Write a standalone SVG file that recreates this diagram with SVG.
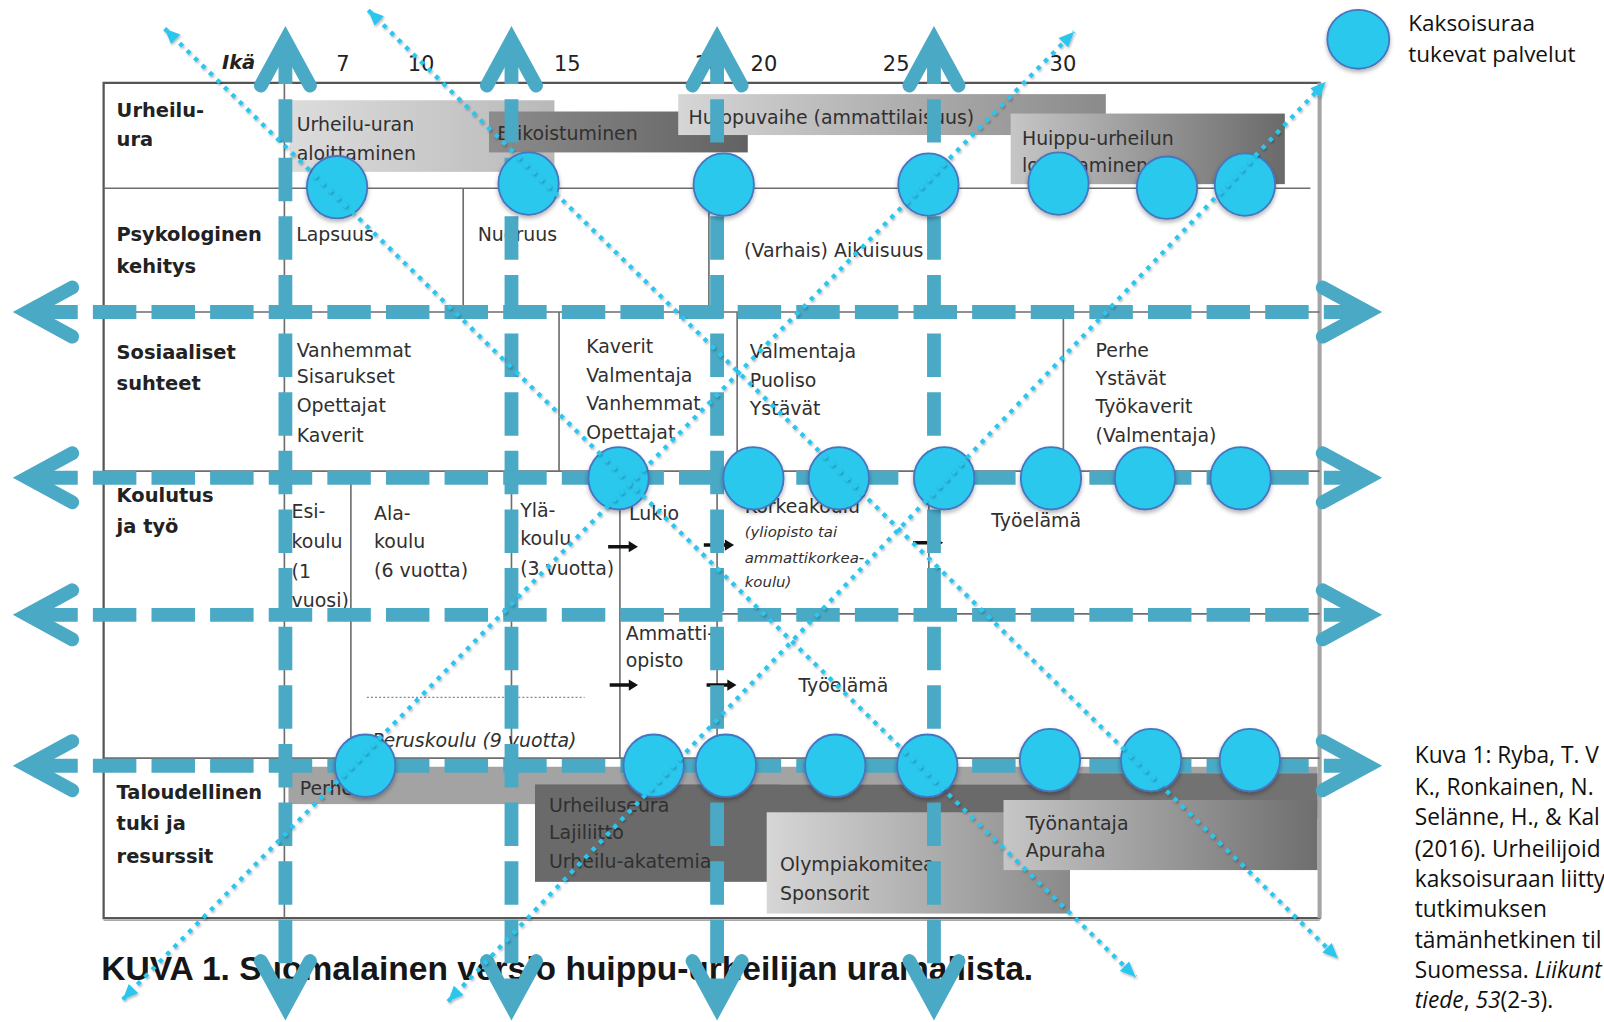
<svg xmlns="http://www.w3.org/2000/svg" width="1604" height="1022" viewBox="0 0 1604 1022">
<defs>
<style>
.t{font-family:"DejaVu Sans",sans-serif;font-size:18.5px;fill:#303030}
.b{font-weight:bold;font-size:19px;fill:#222}
.i{font-style:italic}
.s{font-size:14.6px}
.n{font-size:20.5px;fill:#222}
.grid{stroke:#6e6e6e;stroke-width:1.6;fill:none}
.axis{fill:none;stroke:#4AA9C5;stroke-width:13.5;stroke-dasharray:42.5 14.8}
.h{stroke-dashoffset:50.4;marker-start:url(#chev);marker-end:url(#chev)}
.v{marker-start:url(#chev);marker-end:url(#chev)}
.diag{fill:none;stroke:#2CC6EE;stroke-width:4.2;stroke-dasharray:4.2 6;marker-start:url(#tri);marker-end:url(#tri)}
.node{fill:#29C8ED;stroke:#4775BF;stroke-width:1.8}
.arr{stroke:#111;stroke-width:3.5;fill:none}
.tip{fill:#111}
.ref{font-family:"Open Sans",sans-serif;font-size:22.2px;fill:#111}
.leg{font-family:"Open Sans",sans-serif;font-size:22px;fill:#111}
.cap{font-family:"Liberation Sans",Arial,sans-serif;font-weight:bold;font-size:32px;fill:#161616}
</style>
<marker id="chev" viewBox="-60 -40 80 80" markerWidth="80" markerHeight="80" refX="0" refY="0" markerUnits="userSpaceOnUse" orient="auto-start-reverse" overflow="visible">
<path d="M-44,-24 L0,0 L-44,24" fill="none" stroke="#4AA9C5" stroke-width="13.5" stroke-linecap="round" stroke-linejoin="miter"/>
</marker>
<marker id="tri" viewBox="-20 -10 20 20" markerWidth="20" markerHeight="20" refX="0" refY="0" markerUnits="userSpaceOnUse" orient="auto-start-reverse" overflow="visible">
<path d="M0,0 L-15,-6.5 L-15,6.5 Z" fill="#2CC6EE"/>
</marker>
<linearGradient id="g1" x1="0" x2="1" y1="0" y2="0"><stop offset="0" stop-color="#dcdcdc"/><stop offset="1" stop-color="#b9b9b9"/></linearGradient>
<linearGradient id="g2" x1="0" x2="1" y1="0" y2="0"><stop offset="0" stop-color="#8c8c8c"/><stop offset="1" stop-color="#626262"/></linearGradient>
<linearGradient id="g3" x1="0" x2="1" y1="0" y2="0"><stop offset="0" stop-color="#d6d6d6"/><stop offset="1" stop-color="#8a8a8a"/></linearGradient>
<linearGradient id="g4" x1="0" x2="1" y1="0" y2="0"><stop offset="0" stop-color="#c6c6c6"/><stop offset="1" stop-color="#6a6a6a"/></linearGradient>
<linearGradient id="g5" x1="0" x2="1" y1="0" y2="0"><stop offset="0" stop-color="#d6d6d6"/><stop offset="1" stop-color="#8a8a8a"/></linearGradient>
<linearGradient id="g6" x1="0" x2="1" y1="0" y2="0"><stop offset="0" stop-color="#c6c6c6"/><stop offset="1" stop-color="#6e6e6e"/></linearGradient>
<filter id="sh" x="-30%" y="-30%" width="160%" height="170%"><feDropShadow dx="0" dy="2.5" stdDeviation="2" flood-color="#000" flood-opacity="0.3"/></filter>
<filter id="dsh" x="-5%" y="-5%" width="110%" height="110%"><feDropShadow dx="1" dy="1.5" stdDeviation="0.8" flood-color="#000" flood-opacity="0.3"/></filter>
</defs>
<rect width="1604" height="1022" fill="#ffffff"/>
<g transform="scale(1.02296 1.02302)">

<g id="bars">
<rect x="283" y="98" width="259" height="70" fill="url(#g1)"/>
<rect x="478" y="109" width="253" height="40" fill="url(#g2)"/>
<rect x="663" y="92" width="418" height="40" fill="url(#g3)"/>
<rect x="988" y="111" width="268" height="69" fill="url(#g4)"/>
<rect x="282" y="749.5" width="1006" height="36.5" fill="#a3a3a3"/>
<rect x="1046" y="756" width="242" height="44" fill="#727272"/>
<rect x="523" y="767" width="523" height="33" fill="#6a6a6a"/>
<rect x="523" y="767" width="240" height="95" fill="#6a6a6a"/>
<rect x="749.5" y="794" width="296.5" height="99" fill="url(#g5)"/>
<rect x="981" y="782" width="307" height="68.5" fill="url(#g6)"/>
</g>

<g id="table">
<rect x="101.3" y="81" width="1188.7" height="816.5" fill="none" stroke="#555" stroke-width="2.2"/>
<line x1="1290" y1="81" x2="1290" y2="897.5" stroke="#a5a5a5" stroke-width="4"/>
<line x1="101.3" y1="899.5" x2="1290" y2="899.5" stroke="#aaa" stroke-width="1.5"/>
<path class="grid" d="M101.3,184H1281 M101.3,305H1290 M101.3,460.5H1290 M606,600H1290 M101.3,741H1290 M278,81V897.5 M452.8,184V305 M693,184V305 M546.5,305V460.5 M720.6,305V460.5 M1039.5,305V460.5 M343,460.5V741 M500,460.5V741 M606,460.5V741 M701,460.5V741 M908,460.5V600"/>
<line x1="358.6" y1="681.7" x2="571.5" y2="681.7" stroke="#8a8a8a" stroke-width="1.2" stroke-dasharray="2 2"/>
<path class="arr" d="M594.5,534.4H616 M688,532.8H710 M892.6,530.5H914.5 M596,669.6H616 M690.7,669.6H712.5"/>
<path class="tip" d="M623.6,534.4l-9,-5.5v11z M717.6,532.8l-9,-5.5v11z M922,530.5l-9,-5.5v11z M623.7,669.6l-9,-5.5v11z M720,669.6l-9,-5.5v11z"/>
</g>

<g id="table-text">
<text class="t b i" x="217" y="67">Ikä</text>
<text class="t n" x="328.6" y="69">7</text>
<text class="t n" x="398.6" y="69">10</text>
<text class="t n" x="541.6" y="69">15</text>
<text class="t n" x="679" y="69">18</text>
<text class="t n" x="733.7" y="69">20</text>
<text class="t n" x="863" y="69">25</text>
<text class="t n" x="1026" y="69">30</text>

<text class="t b" x="114" y="114">Urheilu-</text>
<text class="t b" x="114" y="143">ura</text>
<text class="t b" x="114" y="236">Psykologinen</text>
<text class="t b" x="114" y="267">kehitys</text>
<text class="t b" x="114" y="351">Sosiaaliset</text>
<text class="t b" x="114" y="381">suhteet</text>
<text class="t b" x="114" y="491">Koulutus</text>
<text class="t b" x="114" y="521">ja työ</text>
<text class="t b" x="114" y="781">Taloudellinen</text>
<text class="t b" x="114" y="811.5">tuki ja</text>
<text class="t b" x="114" y="844">resurssit</text>

<text class="t" x="290" y="128">Urheilu-uran</text>
<text class="t" x="290" y="156">aloittaminen</text>
<text class="t" x="486" y="137">Erikoistuminen</text>
<text class="t" x="673" y="121">Huippuvaihe (ammattilaisuus)</text>
<text class="t" x="999" y="142">Huippu-urheilun</text>
<text class="t" x="999" y="168">lopettaminen</text>

<text class="t" x="289.5" y="236">Lapsuus</text>
<text class="t" x="467" y="236">Nuoruus</text>
<text class="t" x="727.4" y="251">(Varhais) Aikuisuus</text>

<text class="t" x="290" y="348.7">Vanhemmat</text>
<text class="t" x="290" y="374.7">Sisarukset</text>
<text class="t" x="290" y="403">Opettajat</text>
<text class="t" x="290" y="431.8">Kaverit</text>
<text class="t" x="573" y="345">Kaverit</text>
<text class="t" x="573" y="373">Valmentaja</text>
<text class="t" x="573" y="401">Vanhemmat</text>
<text class="t" x="573" y="429">Opettajat</text>
<text class="t" x="733" y="350">Valmentaja</text>
<text class="t" x="733" y="378">Puoliso</text>
<text class="t" x="733" y="405.7">Ystävät</text>
<text class="t" x="1071" y="349">Perhe</text>
<text class="t" x="1071" y="376">Ystävät</text>
<text class="t" x="1071" y="404">Työkaverit</text>
<text class="t" x="1071" y="432">(Valmentaja)</text>

<text class="t" x="285" y="506.6">Esi-</text>
<text class="t" x="285" y="536">koulu</text>
<text class="t" x="285" y="565">(1</text>
<text class="t" x="285" y="593">vuosi)</text>
<text class="t" x="365.7" y="508">Ala-</text>
<text class="t" x="365.7" y="536">koulu</text>
<text class="t" x="365.7" y="564.5">(6 vuotta)</text>
<text class="t" x="508.5" y="505">Ylä-</text>
<text class="t" x="508.5" y="532.5">koulu</text>
<text class="t" x="508.5" y="562">(3 vuotta)</text>
<text class="t" x="615" y="508">Lukio</text>
<text class="t" x="728" y="501">Korkeakoulu</text>
<text class="t i s" x="728" y="525">(yliopisto tai</text>
<text class="t i s" x="728" y="550">ammattikorkea-</text>
<text class="t i s" x="728" y="573.5">koulu)</text>
<text class="t" x="969" y="515">Työelämä</text>
<text class="t" x="611.7" y="625.6">Ammatti-</text>
<text class="t" x="611.7" y="651.7">opisto</text>
<text class="t" x="780.5" y="676">Työelämä</text>
<text class="t i" x="363.7" y="730">Peruskoulu (9 vuotta)</text>

<text class="t" x="293" y="777">Perhe</text>
<text class="t" x="536.7" y="793.5">Urheiluseura</text>
<text class="t" x="536.7" y="820.5">Lajiliitto</text>
<text class="t" x="536.7" y="848.5">Urheilu-akatemia</text>
<text class="t" x="762.5" y="851">Olympiakomitea</text>
<text class="t" x="762.5" y="880">Sponsorit</text>
<text class="t" x="1002.7" y="811.4">Työnantaja</text>
<text class="t" x="1002.7" y="837.4">Apuraha</text>
</g>

<g id="caption">
<text class="cap" x="99" y="958" textLength="911" lengthAdjust="spacingAndGlyphs">KUVA 1. Suomalainen versio huippu-urheilijan uramallista.</text>
</g>

<g id="connectors-axes">
<line class="axis v" x1="279" y1="39.6" x2="279" y2="983.4"/>
<line class="axis v" x1="500" y1="39.6" x2="500" y2="983.4"/>
<line class="axis v" x1="701" y1="39.6" x2="701" y2="983.4"/>
<line class="axis v" x1="913" y1="39.6" x2="913" y2="983.4"/>
<line class="axis h" x1="26.6" y1="305" x2="1337" y2="305"/>
<line class="axis h" x1="26.6" y1="467" x2="1337" y2="467"/>
<line class="axis h" x1="26.6" y1="601" x2="1337" y2="601"/>
<line class="axis h" x1="26.6" y1="748.5" x2="1337" y2="748.5"/>
</g>

<g id="nodes" filter="url(#sh)">
<g id="node-r1-1"><ellipse class="node" cx="329.5" cy="183" rx="29.5" ry="30.5"/></g>
<g id="node-r1-2"><ellipse class="node" cx="516.7" cy="179.5" rx="29.5" ry="30.5"/></g>
<g id="node-r1-3"><ellipse class="node" cx="707.5" cy="180.5" rx="29.5" ry="30.5"/></g>
<g id="node-r1-4"><ellipse class="node" cx="907.6" cy="180.5" rx="29.5" ry="30.5"/></g>
<g id="node-r1-5"><ellipse class="node" cx="1034.7" cy="179.5" rx="29.5" ry="30.5"/></g>
<g id="node-r1-6"><ellipse class="node" cx="1140.8" cy="183.5" rx="29.5" ry="30.5"/></g>
<g id="node-r1-7"><ellipse class="node" cx="1217" cy="180.5" rx="29.5" ry="30.5"/></g>
<g id="node-r2-1"><ellipse class="node" cx="604.7" cy="467.5" rx="29.5" ry="30.5"/></g>
<g id="node-r2-2"><ellipse class="node" cx="736.5" cy="467.5" rx="29.5" ry="30.5"/></g>
<g id="node-r2-3"><ellipse class="node" cx="820" cy="467.5" rx="29.5" ry="30.5"/></g>
<g id="node-r2-4"><ellipse class="node" cx="923" cy="467.5" rx="29.5" ry="30.5"/></g>
<g id="node-r2-5"><ellipse class="node" cx="1027.4" cy="467.5" rx="29.5" ry="30.5"/></g>
<g id="node-r2-6"><ellipse class="node" cx="1119.3" cy="467.5" rx="29.5" ry="30.5"/></g>
<g id="node-r2-7"><ellipse class="node" cx="1212.8" cy="467.5" rx="29.5" ry="30.5"/></g>
<g id="node-r3-1"><ellipse class="node" cx="357" cy="748.5" rx="29.5" ry="30.5"/></g>
<g id="node-r3-2"><ellipse class="node" cx="639" cy="748.5" rx="29.5" ry="30.5"/></g>
<g id="node-r3-3"><ellipse class="node" cx="709.6" cy="748.5" rx="29.5" ry="30.5"/></g>
<g id="node-r3-4"><ellipse class="node" cx="816.5" cy="748.5" rx="29.5" ry="30.5"/></g>
<g id="node-r3-5"><ellipse class="node" cx="906.5" cy="748.5" rx="29.5" ry="30.5"/></g>
<g id="node-r3-6"><ellipse class="node" cx="1026.4" cy="743" rx="29.5" ry="30.5"/></g>
<g id="node-r3-7"><ellipse class="node" cx="1125.3" cy="743" rx="29.5" ry="30.5"/></g>
<g id="node-r3-8"><ellipse class="node" cx="1221.8" cy="743" rx="29.5" ry="30.5"/></g>
</g>

<g id="connectors-diagonals" filter="url(#dsh)">
<line class="diag" x1="161" y1="28" x2="1110" y2="955"/>
<line class="diag" x1="360" y1="10" x2="1308" y2="937"/>
<line class="diag" x1="120" y1="977" x2="1050" y2="31"/>
<line class="diag" x1="438" y1="979" x2="1296" y2="80"/>
</g>

<g id="legend">
<g id="legend-node" filter="url(#sh)"><ellipse class="node" cx="1327.8" cy="38.4" rx="30.3" ry="28.8"/></g>
<text class="leg" x="1376.7" y="30">Kaksoisuraa</text>
<text class="leg" x="1376.7" y="60.3">tukevat palvelut</text>
</g>

<g id="citation">
<text class="ref" x="1383" y="746">Kuva 1: Ryba, T. V</text>
<text class="ref" x="1383" y="777">K., Ronkainen, N.</text>
<text class="ref" x="1383" y="806.5">Selänne, H., &amp; Kal</text>
<text class="ref" x="1383" y="837.5">(2016). Urheilijoid</text>
<text class="ref" x="1383" y="866.8">kaksoisuraan liitty</text>
<text class="ref" x="1383" y="896">tutkimuksen</text>
<text class="ref" x="1383" y="927">tämänhetkinen til</text>
<text class="ref" x="1383" y="956.3">Suomessa. <tspan font-style="italic">Liikunt</tspan></text>
<text class="ref" x="1383" y="985.7"><tspan font-style="italic">tiede</tspan>, <tspan font-style="italic">53</tspan>(2-3).</text>
</g>

</g>
</svg>
